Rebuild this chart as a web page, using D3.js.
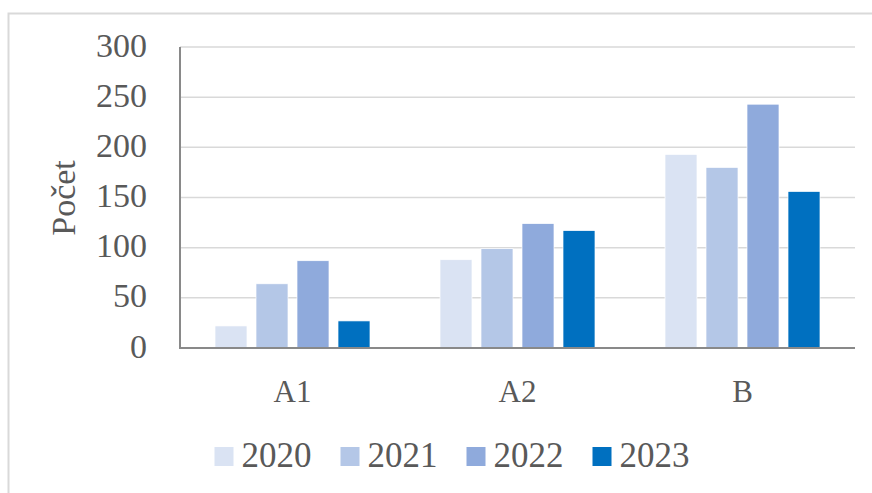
<!DOCTYPE html>
<html><head><meta charset="utf-8">
<script src="https://cdn.jsdelivr.net/npm/d3@7"></script>
<style>body{margin:0;background:#fff}svg{display:block}</style>
</head><body>
<script>
const categories = ["A1", "A2", "B"];
const seriesNames = ["2020", "2021", "2022", "2023"];
const v2020 = [22, 88, 193];
const v2021 = [64, 99, 180];
const v2022 = [87, 124, 243];
const v2023 = [27, 117, 156];
const yTicks = [0, 50, 100, 150, 200, 250, 300];
const colors = ["#DAE3F3", "#B4C7E7", "#8FAADC", "#0070C0"];
const seriesValues = [v2020, v2021, v2022, v2023];

(function() {
const W = 872, H = 493;
const font = "'Liberation Serif', 'Times New Roman', serif";
const txt = "#595959";
const svg = d3.select("body").append("svg").attr("width", W).attr("height", H);

svg.append("rect").attr("x", 8.5).attr("y", 13.5).attr("width", 900).attr("height", 600)
  .attr("fill", "none").attr("stroke", "#d9d9d9").attr("stroke-width", 2);

const pLeft = 180, pRight = 855, pTop = 47, pBottom = 348;
const y = d3.scaleLinear().domain([0, 300]).range([pBottom, pTop]);
const x0 = d3.scaleBand().domain(categories).range([pLeft, pRight])
  .paddingInner(70/225).paddingOuter(35/225);
const x1 = d3.scaleBand().domain(seriesNames).range([0, x0.bandwidth()]).paddingInner(9/41).paddingOuter(0);

svg.append("g").selectAll("line").data(yTicks.filter(t => t > 0)).join("line")
  .attr("x1", pLeft).attr("x2", pRight).attr("y1", d => y(d)).attr("y2", d => y(d))
  .attr("stroke", "#d9d9d9").attr("stroke-width", 1.5);

const g = svg.append("g");
seriesNames.forEach((s, si) => {
  g.append("g").selectAll("rect").data(categories).join("rect")
    .attr("x", c => x0(c) + x1(s))
    .attr("y", (c, i) => y(seriesValues[si][i]))
    .attr("width", x1.bandwidth())
    .attr("height", (c, i) => y(0) - y(seriesValues[si][i]))
    .attr("fill", colors[si])
    .attr("stroke", "#ffffff").attr("stroke-width", 0.7);
});

svg.append("line").attr("x1", pLeft).attr("x2", pLeft).attr("y1", pTop).attr("y2", pBottom + 1)
  .attr("stroke", "#898989").attr("stroke-width", 2);
svg.append("line").attr("x1", pLeft - 1).attr("x2", pRight).attr("y1", pBottom).attr("y2", pBottom)
  .attr("stroke", "#898989").attr("stroke-width", 2);

svg.append("g").selectAll("text").data(yTicks).join("text")
  .attr("x", 147).attr("y", d => y(d) - 2)
  .attr("text-anchor", "end").attr("dominant-baseline", "central")
  .attr("font-family", font).attr("font-size", 34).attr("fill", txt)
  .text(d => d);

svg.append("g").selectAll("text").data(categories).join("text")
  .attr("x", c => x0(c) + x0.bandwidth() / 2).attr("y", 402)
  .attr("text-anchor", "middle")
  .attr("font-family", font).attr("font-size", 31).attr("fill", txt)
  .text(c => c);

svg.append("text").attr("transform", "translate(75,198) rotate(-90)")
  .attr("text-anchor", "middle")
  .attr("font-family", font).attr("font-size", 34).attr("fill", txt)
  .text("Počet");

const lg = svg.append("g");
const items = lg.selectAll("g").data(seriesNames).join("g");
items.append("rect").attr("width", 19).attr("height", 19).attr("y", 447)
  .attr("fill", (d, i) => colors[i]);
items.append("text").attr("x", 27).attr("y", 467)
  .attr("font-family", font).attr("font-size", 35).attr("fill", txt)
  .text(d => d);
const widths = [];
items.each(function() { widths.push(d3.select(this).select("text").node().getComputedTextLength()); });
const gap = 29;
const total = d3.sum(widths, w => 27 + w) + gap * (widths.length - 1);
let cx = 452 - total / 2;
items.each(function(d, i) {
  d3.select(this).attr("transform", `translate(${cx},0)`);
  cx += 27 + widths[i] + gap;
});
})();
</script>
</body></html>
